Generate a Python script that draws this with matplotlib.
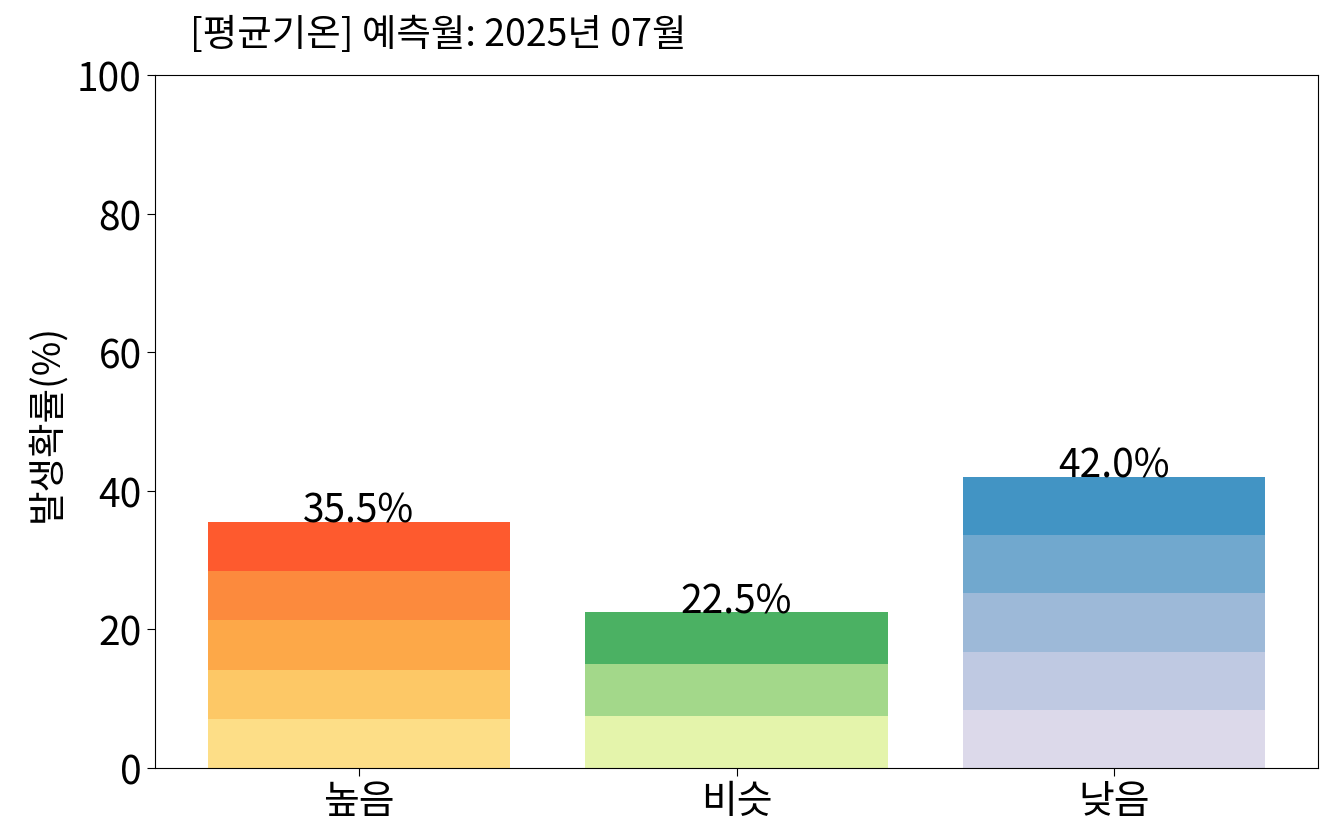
import matplotlib
matplotlib.use("Agg")
import matplotlib.pyplot as plt

plt.rcParams['font.family'] = ['Noto Sans CJK KR', 'DejaVu Sans']
plt.rcParams['font.weight'] = 'light'

categories = ['높음', '비슷', '낮음']
values = [35.5, 22.5, 42.0]
segments = [5, 3, 5]
colors = [
    ['#FDDE87', '#FDC866', '#FDA848', '#FC8A3D', '#FE5A2E'],
    ['#E4F4AB', '#A3D88A', '#4BB163'],
    ['#DCD9EA', '#BFC9E2', '#9DB9D8', '#71A8CE', '#4294C4'],
]
title = '[평균기온] 예측월: 2025년 07월'
ylabel = '발생확률(%)'

fig = plt.figure(figsize=(13.33, 8.37), dpi=100)
ax = fig.add_axes([155/1333, 1-769/837, (1318-155)/1333, (769-76)/837])

x = list(range(len(categories)))
for i, (v, n, cs) in enumerate(zip(values, segments, colors)):
    seg = v / n
    for k in range(n):
        ax.bar(x[i], seg, bottom=seg*k, width=0.8, color=cs[k], linewidth=0)
    ax.text(x[i], v, f'{v:.1f}%', ha='center', va='baseline', fontsize=28)

ax.set_ylim(0, 100)
ax.set_xticks(x)
ax.set_xticklabels(categories)
ax.tick_params(axis='both', labelsize=28, length=6)
ax.set_ylabel(ylabel, fontsize=27, labelpad=8)
fig.text(190/1333, 1-35/837, title, fontsize=27, ha='left', va='center')

fig.savefig('out.png', dpi=100)
